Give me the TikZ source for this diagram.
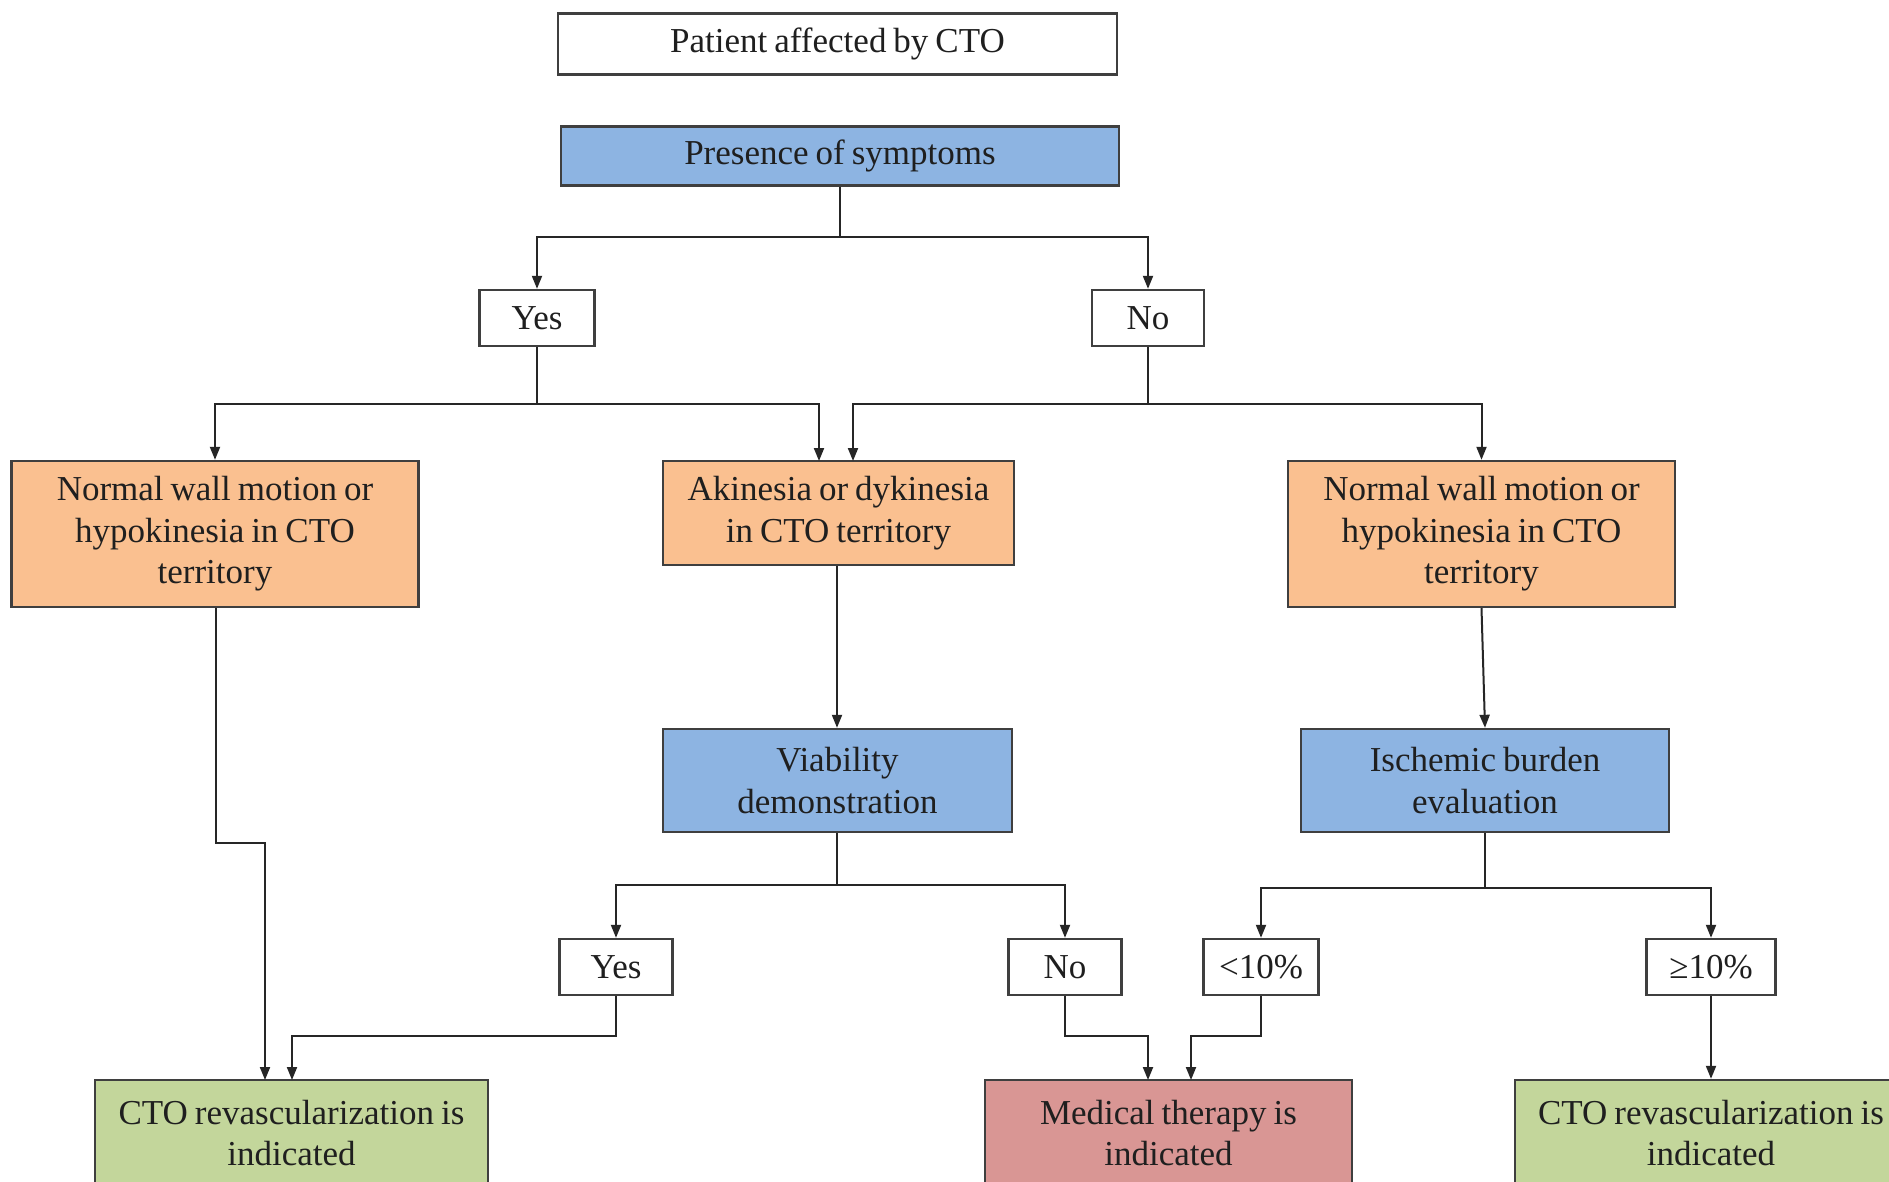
\documentclass[tikz,border=0pt]{standalone}
\usepackage{fontspec}
\setmainfont[WordSpace=0.8]{Liberation Serif}
\usetikzlibrary{arrows.meta}
\definecolor{cblue}{HTML}{8DB4E2}
\definecolor{corange}{HTML}{FAC090}
\definecolor{cgreen}{HTML}{C3D69B}
\definecolor{cred}{HTML}{D99694}
\definecolor{cborder}{HTML}{3F3F3F}
\tikzset{
  box/.style={draw=cborder, line width=2.4pt, align=center, inner sep=0pt,
    font=\fontsize{35}{41.5}\selectfont, text=black!88},
  arr/.style={draw=black!85, line width=2pt, -{Triangle[length=13pt,width=10pt]}},
  ln/.style={draw=black!85, line width=2pt},
}
\begin{document}
\begin{tikzpicture}[x=1pt,y=-1pt]
\clip (0,0) rectangle (1889,1182);
\fill[white] (0,0) rectangle (1889,1182);
% nodes
\node[box, fill=white, minimum width=559pt, minimum height=61pt] (patient) at (837.5,44) {Patient affected by CTO};
\node[box, fill=cblue, minimum width=558pt, minimum height=59pt] (presence) at (840,156) {Presence of symptoms};
\node[box, fill=white, minimum width=115pt, minimum height=56pt] (yes1) at (537,318) {Yes};
\node[box, fill=white, minimum width=112pt, minimum height=56pt] (no1) at (1148,318) {No};
\node[box, fill=corange, minimum width=407pt, minimum height=146pt] (lo) at (215,534) {Normal wall motion or\\hypokinesia in CTO\\territory};
\node[box, fill=corange, minimum width=351pt, minimum height=104pt] (mo) at (838.5,513) {Akinesia or dykinesia\\in CTO territory};
\node[box, fill=corange, minimum width=387pt, minimum height=146pt] (ro) at (1481.5,534) {Normal wall motion or\\hypokinesia in CTO\\territory};
\node[box, fill=cblue, minimum width=349pt, minimum height=103pt] (via) at (837.5,780.5) {Viability\\demonstration};
\node[box, fill=cblue, minimum width=368pt, minimum height=103pt] (isc) at (1485,780.5) {Ischemic burden\\evaluation};
\node[box, fill=white, minimum width=113pt, minimum height=56pt] (yes2) at (616,967) {Yes};
\node[box, fill=white, minimum width=113pt, minimum height=56pt] (no2) at (1065,967) {No};
\node[box, fill=white, minimum width=115pt, minimum height=56pt] (lt10) at (1261,967) {<10\%};
\node[box, fill=white, minimum width=129pt, minimum height=56pt] (ge10) at (1711,967) {≥10\%};
\node[box, fill=cgreen, minimum width=393pt, minimum height=106pt] (g1) at (291.5,1133) {CTO revascularization is\\indicated};
\node[box, fill=cred, minimum width=367pt, minimum height=106pt] (red) at (1168.5,1133) {Medical therapy is\\indicated};
\node[box, fill=cgreen, minimum width=392pt, minimum height=106pt] (g2) at (1711,1133) {CTO revascularization is\\indicated};
% junction coordinates
\coordinate (j1) at (840,237);
\coordinate (j2) at (537,404);
\coordinate (j3) at (1148,404);
\coordinate (moL) at (819,461);
\coordinate (moR) at (853,461);
\coordinate (b1) at (216,843);
\coordinate (g1L) at (265,1080);
\coordinate (g1R) at (292,1080);
\coordinate (j4) at (837,885);
\coordinate (j5) at (1485,888);
\coordinate (y2b) at (616,1036);
\coordinate (n2b) at (1065,1036);
\coordinate (l10b) at (1261,1036);
\coordinate (redL) at (1148,1080);
\coordinate (redR) at (1191,1080);
% connectors
\draw[ln] (presence.south) -- (j1);
\draw[arr] (j1) -| (yes1.north);
\draw[arr] (j1) -| (no1.north);
\draw[ln] (yes1.south) -- (j2);
\draw[arr] (j2) -| (lo.north);
\draw[arr] (j2) -| (moL);
\draw[ln] (no1.south) -- (j3);
\draw[arr] (j3) -| (moR);
\draw[arr] (j3) -| (ro.north);
\draw[arr] (lo.south -| b1) -- (b1) -| (g1L);
\draw[arr] (mo.south -| j4) -- (via.north -| j4);
\draw[arr] (ro.south) -- (isc.north);
\draw[ln] (via.south -| j4) -- (j4);
\draw[arr] (j4) -| (yes2.north);
\draw[arr] (j4) -| (no2.north);
\draw[ln] (isc.south) -- (j5);
\draw[arr] (j5) -| (lt10.north);
\draw[arr] (j5) -| (ge10.north);
\draw[arr] (yes2.south) -- (y2b) -| (g1R);
\draw[arr] (no2.south) -- (n2b) -| (redL);
\draw[arr] (lt10.south) -- (l10b) -| (redR);
\draw[arr] (ge10.south) -- (g2.north);
\end{tikzpicture}
\end{document}
